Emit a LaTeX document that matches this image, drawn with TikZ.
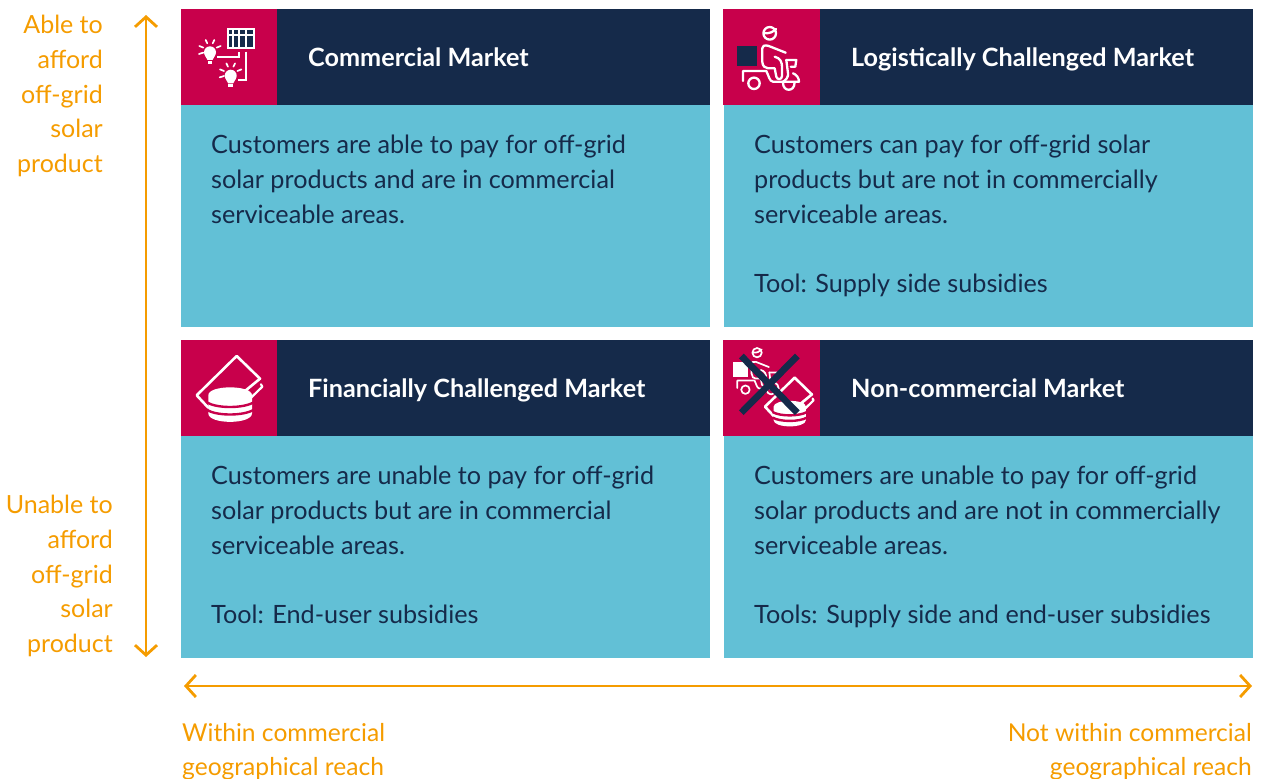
\documentclass[tikz,border=0pt]{standalone}
\usepackage{fontspec}
\setmainfont{Lato}
\usetikzlibrary{arrows.meta}
\definecolor{crimson}{HTML}{C8004B}
\definecolor{navy}{HTML}{152A4A}
\definecolor{teal}{HTML}{62C0D6}
\definecolor{amber}{HTML}{F59C00}

\tikzset{
    icon stroke/.style = {draw=white,line width=2.3pt,line cap=round,line join=round},
    % two lamps and a panel, drawn from the corner of the icon box
    pics/lamp/.style = {code={
        \fill[white] (0,0) circle (6);
        \fill[white] (-5,3.2) -- (5,3.2) -- (2.6,7.6) -- (-2.6,7.6) -- cycle;
        \fill[white] (-2.4,8.6) rectangle (2.4,11.7);
        \foreach \a/\b/\c/\d in {-2.7/-9/-4.3/-12.3, 2.7/-9/4.3/-12.3, -6.7/-4.7/-10.7/-6.3, 6.7/-4.7/10.7/-6.3, -6.7/.3/-11/1.7}
            \draw[icon stroke,line width=1.7pt] (\a,\b) -- (\c,\d);
    }},
    pics/solar/.style = {code={
        \fill[white] (46.3,19.3) rectangle (74,40);
        \foreach \l/\r in {48/51.3, 53/57.3, 59/64, 65.7/72.3} {
            \fill[navy] (\l,21) rectangle (\r,25.3);
            \fill[navy] (\l,26.7) rectangle (\r,37.7);
        }
        \pic at (29,43.3) {lamp};
        \pic at (49.7,66.7) {lamp};
        \draw[icon stroke,line cap=butt,line join=miter] (36,48.3) -- (58,48.3) -- (58,42.7);
        \draw[icon stroke,line cap=butt,line join=miter] (64.7,42.7) -- (64.7,70.7) -- (56.7,70.7);
    }},
    pics/scooter/.style = {code={
        \fill[#1] (14,37) rectangle (34,57);
        \draw[icon stroke] (46.7,24.3) circle (6.3);
        \draw[icon stroke] (41,24) .. controls (46,25) and (50,23) .. (53,20);
        % rider
        \draw[icon stroke] (62.7,43.7) -- (45,36.7) .. controls (41,36) and (39.3,37) .. (39.3,39.3)
            -- (39.3,52.7) .. controls (39.5,57) and (42,59.3) .. (45,59.3) -- (51.7,59.3) -- (53.3,67.7)
            .. controls (54,71) and (59,71) .. (59,67) -- (59,59.3) .. controls (59.5,53) and (57,49) .. (51.7,47.7);
        % scooter
        \draw[icon stroke] (63.3,51) -- (65,64.3) .. controls (65.5,68) and (63,71) .. (60,72.7);
        \draw[icon stroke] (63.3,51) -- (73.3,51) -- (72.3,57.7) -- (67.7,57.7);
        \draw[icon stroke] (70,64.3) .. controls (73.5,65.5) and (76,69) .. (76,72.7) -- (50,72.7)
            .. controls (46.5,72.7) and (45.5,66) .. (43.3,62) -- (20,62) -- (20,72);
        \draw[icon stroke] (31,74.3) circle (5.7);
        \draw[icon stroke] (60,74) .. controls (60,83) and (71.5,83) .. (71.5,74);
    }},
    pics/coins/.style = {code={
        \draw[icon stroke,line width=2.6pt] (27.3,67.7) -- (15.7,55.3) -- (55.7,16) -- (79,38.7) -- (64,51);
        \draw[icon stroke,line width=2.2pt] (80,44.3) -- (81.3,46.7) -- (70,57.7) -- (66.7,51.5);
        \fill[white] (27.3,55.3) .. controls (27.3,44.7) and (71,44.7) .. (71,55.3)
            -- (71,73.3) .. controls (71,84.7) and (27.3,84.7) .. (27.3,73.3) -- cycle;
        \draw[crimson,line width=2.4pt] (26,62.5) .. controls (36,68.5) and (62,68.5) .. (72.3,62.5);
        \draw[crimson,line width=2.4pt] (26,70) .. controls (36,76) and (62,76) .. (72.3,70);
    }},
}

\begin{document}
\begin{tikzpicture} [
                x=1pt,
                y=-1pt,
                panel head/.style = {fill=navy,minimum width=529pt,minimum height=96pt,inner sep=0pt,anchor=north west},
                panel icon/.style = {fill=crimson,minimum height=96pt,inner sep=0pt,anchor=north west},
                panel body/.style = {fill=teal,minimum width=529pt,minimum height=222pt,inner sep=0pt,anchor=north west},
                head text/.style = {text=white,font=\fontsize{25.2}{30}\bfseries\selectfont,anchor=base west,inner sep=0pt},
                body text/.style = {text=navy,font=\fontsize{25.2}{34.75}\selectfont,align=left,anchor=north west,inner sep=0pt},
                axis text/.style = {text=amber,font=\fontsize{25}{34.75}\selectfont,inner sep=0pt},
                reach text/.style = {axis text,font=\fontsize{24.6}{33.6}\selectfont},
                axis/.style = {draw=amber,line width=2.8pt,{Straight Barb[length=10pt,width=22pt]}-{Straight Barb[length=10pt,width=22pt]}}
            ]
            \useasboundingbox (0,0) rectangle (1269,779);
            % First we draw the four panels
            \foreach \x/\y/\name/\title/\body in {
                181/9/com/{Commercial Market}/{Customers are able to pay for off-grid\\solar products and are in commercial\\serviceable areas.},
                724/9/log/{Logistically Challenged Market}/{Customers can pay for off-grid solar\\products but are not in commercially\\serviceable areas.\\[34.75pt]Tool: Supply side subsidies},
                181/340/fin/{Financially Challenged Market}/{Customers are unable to pay for off-grid\\solar products but are in commercial\\serviceable areas.\\[34.75pt]Tool: End-user subsidies},
                724/340/non/{Non-commercial Market}/{Customers are unable to pay for off-grid\\solar products and are not in commercially\\serviceable areas.\\[34.75pt]Tools: Supply side and end-user subsidies}}
            {
                \node[panel head] (head-\name) at (\x,\y) {};
                \node[panel body] (body-\name) at (\x,\y+96) {};
                \node[head text] (title-\name) at (\x+127,\y+57.7) {\title};
                \node[body text] (text-\name) at (\x+30,\y+120.2) {\strut\body};
            }
            % the icons
            \foreach \x/\y/\w/\name in {181/9/96/com, 723/9/97/log, 181/340/96/fin, 723/340/97/non}
                \node[panel icon,minimum width=\w pt] (icon-\name) at (\x,\y) {};
            \pic at (icon-com.north west) {solar};
            \pic at (icon-log.north west) {scooter=navy};
            \pic at (icon-fin.north west) {coins};
            \begin{scope}[icon stroke/.append style={line width=1.7pt}]
                \pic[scale=.74] at ([shift={(-.5,-5.3)}]icon-non.north west) {scooter=white};
                \pic[scale=.74] at ([shift={(30.4,25.8)}]icon-non.north west) {coins};
            \end{scope}
            \draw[navy,line width=6.7pt] ([shift={(18.3,16)}]icon-non.north west) -- ([shift={(74.3,72.7)}]icon-non.north west);
            \draw[navy,line width=6.7pt] ([shift={(74.3,16)}]icon-non.north west) -- ([shift={(18.3,72.7)}]icon-non.north west);
            % Axis labels and arrows
            \node[axis text,align=right,anchor=north east] (able) at (103,9) {\strut Able to\\afford\\off-grid\\solar\\product};
            \node[axis text,align=right,anchor=north east] (unable) at (113,489) {\strut Unable to\\afford\\off-grid\\solar\\product};
            \node[reach text,align=left,anchor=north west] (within) at (182,717.8) {\strut Within commercial\\geographical reach};
            \node[reach text,align=right,anchor=north east] (notwithin) at (1252,717.8) {\strut Not within commercial\\geographical reach};
            \coordinate (up) at (146,15);
            \coordinate (down) at (146,657);
            \coordinate (near) at (184,686);
            \coordinate (far) at (1252,686);
            \path[axis] (up) -- (down);
            \path[axis] (near) -- (far);
        \end{tikzpicture}
\end{document}
